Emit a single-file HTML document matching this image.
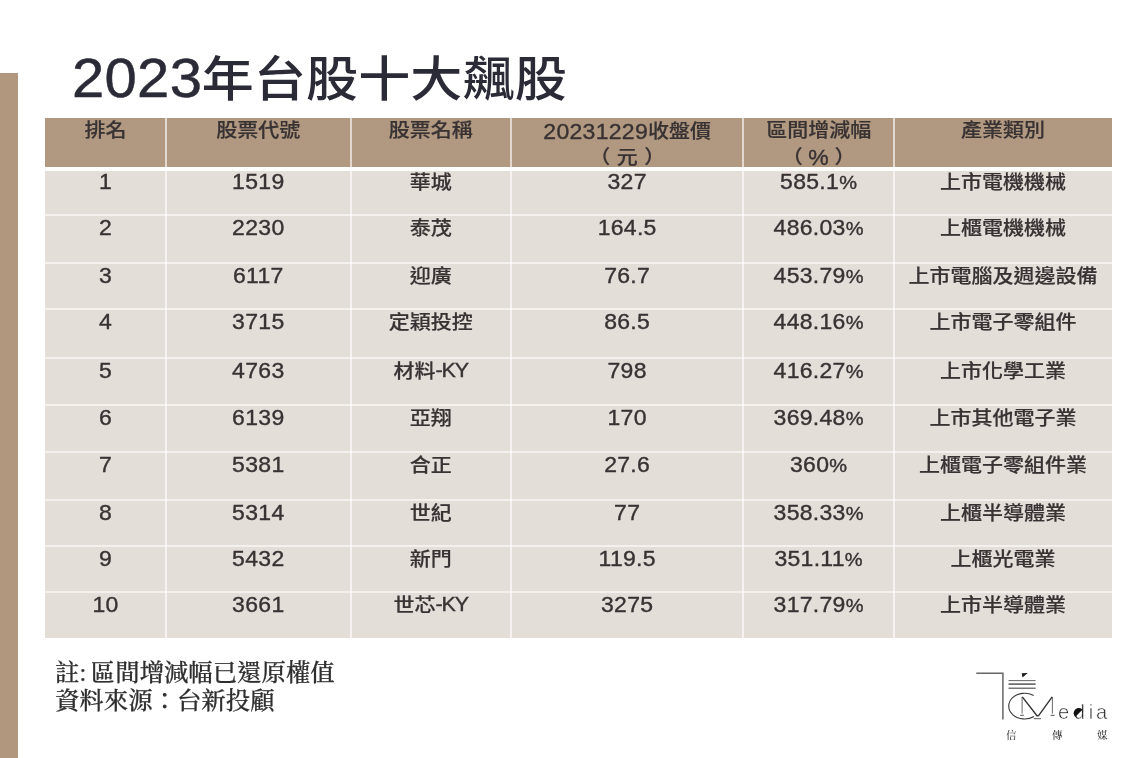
<!DOCTYPE html>
<html lang="zh-Hant">
<head>
<meta charset="utf-8">
<title>2023年台股十大飆股</title>
<style>
html,body{margin:0;padding:0;background:#fff;}
body{width:1136px;height:758px;position:relative;overflow:hidden;
  font-family:"Liberation Sans","Noto Sans CJK TC",sans-serif;color:#383233;}
.bar{position:absolute;left:0;top:73px;width:18px;height:685px;background:#b0977e;}
h1{position:absolute;left:72px;top:39px;margin:0;font-weight:500;font-size:52px;line-height:76px;
  white-space:nowrap;color:#2b2b38;}
h1 .c{display:inline-block;transform:scaleY(.92);transform-origin:50% 62%;letter-spacing:0.15px;margin-left:-0.5px;}
h1 .n{display:inline-block;font-size:58px;letter-spacing:0.3px;transform:scaleY(.958);transform-origin:50% 70%;
  -webkit-text-stroke:0.5px #2b2b38;font-weight:400;}
.tbl{position:absolute;left:45px;top:118px;width:1067px;height:519.5px;background:#fff;}
.row{position:absolute;left:0;width:1067px;display:grid;
  grid-template-columns:121px 184.6px 160.4px 232.4px 150.6px 218px;}
.row>div{background:#e4ded9;text-align:center;font-size:21px;line-height:26px;white-space:nowrap;
  box-sizing:border-box;padding-top:0.8px;overflow:hidden;height:100%;font-weight:500;}
.row.h>div{background:#b19880;padding-top:0;}
.row.r1>div{padding-top:0;}
.row.r1 .c{position:relative;top:-0.8px;}
.row.r1 .n{top:-2.8px !important;}
.hl{position:absolute;left:0;width:1067px;height:2px;background:rgba(255,255,255,.55);}
.vl{position:absolute;top:0;width:2px;height:519.5px;background:rgba(255,255,255,.62);}
.row:not(.h) .n{position:relative;top:-2px;}
.row .c{display:inline-block;transform:scaleY(.9);transform-origin:50% 50%;-webkit-text-stroke:0.2px #383233;}
.row .n{display:inline-block;font-size:23px;letter-spacing:0.3px;transform:scaleY(.95);transform-origin:50% 70%;
  font-weight:400;-webkit-text-stroke:0.4px #383233;}
.note{position:absolute;left:55px;top:658.6px;margin:0;font-family:"Liberation Serif","Noto Serif CJK SC",serif;
  font-size:24.4px;line-height:28.2px;color:#2f2f2f;-webkit-text-stroke:0.25px #2f2f2f;white-space:nowrap;word-spacing:-1.5px;font-weight:500;transform:translateZ(0);will-change:transform;}
.logo{position:absolute;left:970px;top:660px;transform:translateZ(0);will-change:transform;}
.row .p{font-size:20px;}
.row .m{margin:0 6.5px;}
.row .n.m{margin:0 5.5px;}
.tbl,h1{transform:translateZ(0);will-change:transform;}
.row .n.k{font-size:21.5px;letter-spacing:-1.1px;}
</style>
</head>
<body>
<div class="bar"></div>
<h1><span class="n">2023</span><span class="c">年台股十大飆股</span></h1>

<div class="tbl">
  <div class="row h" style="top:0;height:49px">
    <div><span class="c">排名</span></div><div><span class="c">股票代號</span></div><div><span class="c">股票名稱</span></div>
    <div><span class="n">20231229</span><span class="c">收盤價</span><br><span class="c">（<span class="m">元</span>）</span></div>
    <div><span class="c">區間增減幅</span><br><span class="c">（</span><span class="n m">%</span><span class="c">）</span></div><div><span class="c">產業類別</span></div>
  </div>
  <div class="row r1" style="top:53px;height:44px"><div><span class="n">1</span></div><div><span class="n">1519</span></div><div><span class="c">華城</span></div><div><span class="n">327</span></div><div><span class="n">585.1<span class="p">%</span></span></div><div><span class="c">上市電機機械</span></div></div>
  <div class="row" style="top:97px;height:48px"><div><span class="n">2</span></div><div><span class="n">2230</span></div><div><span class="c">泰茂</span></div><div><span class="n">164.5</span></div><div><span class="n">486.03<span class="p">%</span></span></div><div><span class="c">上櫃電機機械</span></div></div>
  <div class="row" style="top:145px;height:46px"><div><span class="n">3</span></div><div><span class="n">6117</span></div><div><span class="c">迎廣</span></div><div><span class="n">76.7</span></div><div><span class="n">453.79<span class="p">%</span></span></div><div><span class="c">上市電腦及週邊設備</span></div></div>
  <div class="row" style="top:191px;height:49px"><div><span class="n">4</span></div><div><span class="n">3715</span></div><div><span class="c">定穎投控</span></div><div><span class="n">86.5</span></div><div><span class="n">448.16<span class="p">%</span></span></div><div><span class="c">上市電子零組件</span></div></div>
  <div class="row" style="top:240px;height:47px"><div><span class="n">5</span></div><div><span class="n">4763</span></div><div><span class="c">材料</span><span class="n k">-KY</span></div><div><span class="n">798</span></div><div><span class="n">416.27<span class="p">%</span></span></div><div><span class="c">上市化學工業</span></div></div>
  <div class="row" style="top:287px;height:47px"><div><span class="n">6</span></div><div><span class="n">6139</span></div><div><span class="c">亞翔</span></div><div><span class="n">170</span></div><div><span class="n">369.48<span class="p">%</span></span></div><div><span class="c">上市其他電子業</span></div></div>
  <div class="row" style="top:334px;height:48px"><div><span class="n">7</span></div><div><span class="n">5381</span></div><div><span class="c">合正</span></div><div><span class="n">27.6</span></div><div><span class="n">360<span class="p">%</span></span></div><div><span class="c">上櫃電子零組件業</span></div></div>
  <div class="row" style="top:382px;height:46px"><div><span class="n">8</span></div><div><span class="n">5314</span></div><div><span class="c">世紀</span></div><div><span class="n">77</span></div><div><span class="n">358.33<span class="p">%</span></span></div><div><span class="c">上櫃半導體業</span></div></div>
  <div class="row" style="top:428px;height:46px"><div><span class="n">9</span></div><div><span class="n">5432</span></div><div><span class="c">新門</span></div><div><span class="n">119.5</span></div><div><span class="n">351.11<span class="p">%</span></span></div><div><span class="c">上櫃光電業</span></div></div>
  <div class="row" style="top:474px;height:45.5px"><div><span class="n">10</span></div><div><span class="n">3661</span></div><div><span class="c">世芯</span><span class="n k">-KY</span></div><div><span class="n">3275</span></div><div><span class="n">317.79<span class="p">%</span></span></div><div><span class="c">上市半導體業</span></div></div>
  <i class="hl" style="top:96px"></i>
  <i class="hl" style="top:144px"></i>
  <i class="hl" style="top:190px"></i>
  <i class="hl" style="top:239px"></i>
  <i class="hl" style="top:286px"></i>
  <i class="hl" style="top:333px"></i>
  <i class="hl" style="top:381px"></i>
  <i class="hl" style="top:427px"></i>
  <i class="hl" style="top:473px"></i>
  <i class="vl" style="left:120px"></i>
  <i class="vl" style="left:305px"></i>
  <i class="vl" style="left:465px"></i>
  <i class="vl" style="left:697px"></i>
  <i class="vl" style="left:848px"></i>
</div>

<p class="note">註: 區間增減幅已還原權值<br>資料來源：台新投顧</p>

<svg class="logo" width="166" height="98" viewBox="970 660 166 98">
  <g fill="none" stroke="#555">
    <path d="M976.3 673.2H1002.9V719.6" stroke-width="1.5" stroke="#666"/>
    <path d="M1008.5 680.6H1035.6" stroke-width="0.9"/>
    <path d="M1008.5 684.1H1035.6" stroke-width="1.5"/>
    <path d="M1008.5 688.2H1035.6" stroke-width="1.2"/>
    <path d="M1033.6 695.5A15.9 12.85 0 1 0 1034 716.5" stroke-width="1.1" stroke="#3a3a3a"/>
    <path d="M1022.1 713.6V696.9M1052.4 696.9V713.6" stroke-width="0.8" stroke="#444"/>
    <path d="M1022.3 696.9L1037 715.7H1038.6L1052.2 696.9" stroke-width="1.4" stroke="#333" stroke-linejoin="round"/>
    <path d="M1020.1 715.3H1023.9M1033.8 718.7H1041.1M1050.5 715.3H1054.7" stroke-width="0.9" stroke="#444"/>
  </g>
  <path d="M1021.7 673.3L1027.7 672.9L1022.5 677.4Z" fill="#1a1a1a"/>
  <text y="718.6" font-family="'Liberation Sans',sans-serif" font-size="20.2" fill="#222" stroke="#fff" stroke-width="0.55"><tspan x="1058.1">e</tspan><tspan x="1073.7">d</tspan><tspan x="1088.7">i</tspan><tspan x="1096.1">a</tspan></text>
  <path d="M1075.2 717A5.2 5.2 0 0 1 1082.6 709.6Z" fill="#111"/>
  <text y="739.3" font-family="'Liberation Serif','Noto Serif CJK SC',serif" font-size="10.4" font-weight="500" fill="#3c3c3c" text-anchor="middle"><tspan x="1011.3">信</tspan><tspan x="1057.2">傳</tspan><tspan x="1102.4">媒</tspan></text>
</svg>

</body>
</html>
